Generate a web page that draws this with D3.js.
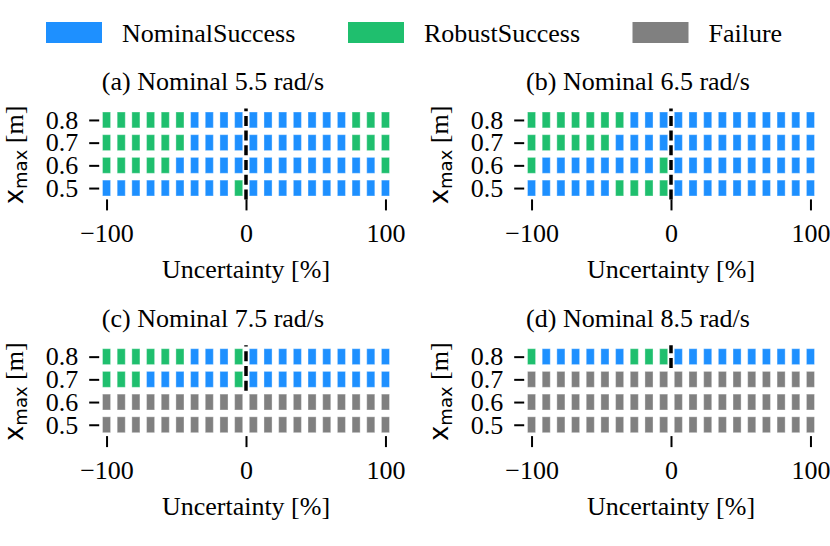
<!DOCTYPE html>
<html>
<head>
<meta charset="utf-8">
<script src="https://cdn.jsdelivr.net/npm/d3@7"></script>
<style>
body { margin: 0; background: #fff; }
text { font-family: "Liberation Serif", "Times New Roman", serif; fill: #000; }
</style>
</head>
<body>
<div class="container"></div>
<script>
const WIDTH = 830;
const HEIGHT = 546;
const FONT = 26;

// data
const uncertainty = [-100, -89.47, -78.95, -68.42, -57.89, -47.37, -36.84, -26.32, -15.79, -5.26,
	5.26, 15.79, 26.32, 36.84, 47.37, 57.89, 68.42, 78.95, 89.47, 100];
const xmaxValues = [0.5, 0.6, 0.7, 0.8];
const xTicks = [-100, 0, 100];
const outcomeNames = ["NominalSuccess", "RobustSuccess", "Failure"];
const panelTitles = ["(a) Nominal 5.5 rad/s", "(b) Nominal 6.5 rad/s", "(c) Nominal 7.5 rad/s", "(d) Nominal 8.5 rad/s"];

// one string per xmax row (0.5, 0.6, 0.7, 0.8); N = nominal, R = robust, F = failure
const outcomeA = ["NNNNNNNNNRNNNNNNNNNN", "RRRRRNNNNNNNNNNNNNNR", "RRRRRRNNNNNNNNNNNRRR", "RRRRRRNNNNNNNNNNNRRR"];
const outcomeB = ["NNNNNNRRRRNNNNNNNNNN", "RNNNNNNNNRNNNNNNNNNN", "RRRRRRNNNNNNNNNNNNNN", "RRRRRRRNNNNNNNNNNNNN"];
const outcomeC = ["FFFFFFFFFFFFFFFFFFFF", "FFFFFFFFFFFFFFFFFFFF", "RRRNNNNNNRNNNNNNNNNN", "RRRRRRNNNRNNNNNNNNNN"];
const outcomeD = ["FFFFFFFFFFFFFFFFFFFF", "FFFFFFFFFFFFFFFFFFFF", "FFFFFFFFFFFFFFFFFFFF", "RNNNNNNRRRNNNNNNNNNN"];
const outcomes = [outcomeA, outcomeB, outcomeC, outcomeD];

const colorOf = { N: "#1e90ff", R: "#1fbf6e", F: "#808080" };
const codeOf = ["N", "R", "F"];

// layout
const PLOT_W = 293.6;
const PLOT_H = 90.8;
const panelPos = [
	{ left: 99.2, top: 108.6 },
	{ left: 524.2, top: 108.6 },
	{ left: 99.2, top: 345.3 },
	{ left: 524.2, top: 345.3 }
];
const STEP = 200 / 19;

var _svg = d3.select('.container').append('svg')
	.attr('width', WIDTH)
	.attr('height', HEIGHT);

// legend
var legendX = [46, 348, 632.5];
var legend = _svg.append('g');
outcomeNames.forEach(function(name, i) {
	legend.append('rect')
		.attr('x', legendX[i]).attr('y', 22)
		.attr('width', 56).attr('height', 21)
		.attr('fill', colorOf[codeOf[i]]);
	legend.append('text')
		.attr('x', legendX[i] + 76).attr('y', 42)
		.attr('font-size', FONT)
		.text(name);
});

var drawPanel = function(p) {
	var pos = panelPos[p];
	var data = outcomes[p];

	var xScale = d3.scaleLinear()
		.domain([-100 - STEP / 2, 100 + STEP / 2])
		.range([0, PLOT_W]);
	var yScale = d3.scaleLinear()
		.domain([0.45, 0.85])
		.range([PLOT_H, 0]);

	var g = _svg.append('g')
		.attr('transform', 'translate(' + pos.left + ',' + pos.top + ')');

	var cells = [];
	xmaxValues.forEach(function(ym, r) {
		uncertainty.forEach(function(u, c) {
			cells.push({ u: u, ym: ym, code: data[r][c] });
		});
	});

	var cw = STEP * 0.55;
	var ch = 0.07;
	g.selectAll('rect.cell').data(cells).enter().append('rect')
		.attr('class', 'cell')
		.attr('x', function(d) { return xScale(d.u - cw / 2); })
		.attr('y', function(d) { return yScale(d.ym + ch / 2); })
		.attr('width', xScale(cw) - xScale(0))
		.attr('height', yScale(0) - yScale(ch))
		.attr('fill', function(d) { return colorOf[d.code]; })
		.attr('stroke', '#fff')
		.attr('stroke-opacity', 0.35)
		.attr('stroke-width', 1);

	// axes
	var xAxis = d3.axisBottom(xScale).tickValues(xTicks).tickSize(11).tickFormat(d3.format('d'));
	var ax = g.append('g')
		.attr('transform', 'translate(0,' + PLOT_H + ')')
		.call(xAxis);
	ax.select('.domain').remove();
	ax.selectAll('line').attr('stroke-width', 2);
	ax.selectAll('text').attr('y', 42.6).attr('dy', 0)
		.attr('font-size', FONT).attr('font-family', '"Liberation Serif", serif');

	var yAxis = d3.axisLeft(yScale).tickValues(xmaxValues).tickSize(10).tickFormat(d3.format('.1f'));
	var ay = g.append('g').call(yAxis);
	ay.select('.domain').remove();
	ay.selectAll('line').attr('stroke-width', 2);
	ay.selectAll('text').attr('x', -21).attr('dy', '0.32em')
		.attr('font-size', FONT).attr('font-family', '"Liberation Serif", serif');

	// dashed line at 0 over the rows with any success
	var okRows = xmaxValues.filter(function(ym, r) { return data[r].indexOf('F') < 0 || /[NR]/.test(data[r]); });
	if (okRows.length) {
		g.append('line')
			.attr('x1', xScale(0)).attr('x2', xScale(0))
			.attr('y1', yScale(d3.min(okRows) - 0.05))
			.attr('y2', yScale(d3.max(okRows) + 0.05))
			.attr('stroke', '#000')
			.attr('stroke-width', 3.5)
			.attr('stroke-dasharray', '10,4.7');
	}

	// labels
	g.append('text')
		.attr('x', PLOT_W / 2 - 33).attr('y', -18.6)
		.attr('text-anchor', 'middle')
		.attr('font-size', FONT)
		.text(panelTitles[p]);

	g.append('text')
		.attr('x', PLOT_W / 2).attr('y', PLOT_H + 79)
		.attr('text-anchor', 'middle')
		.attr('font-size', FONT)
		.text('Uncertainty [%]');

	var yl = g.append('text')
		.attr('transform', 'translate(-76,' + (PLOT_H / 2 + 1) + ') rotate(-90)')
		.attr('text-anchor', 'middle')
		.attr('font-size', FONT);
	yl.append('tspan').attr('font-family', '"DejaVu Sans", sans-serif').text('x');
	yl.append('tspan').attr('font-family', '"DejaVu Sans", sans-serif')
		.attr('font-size', 18).attr('dy', 4).text('max');
	yl.append('tspan').attr('dy', -4).text(' [m]');
};

for (var p = 0; p < 4; p++) {
	drawPanel(p);
}
</script>
</body>
</html>
